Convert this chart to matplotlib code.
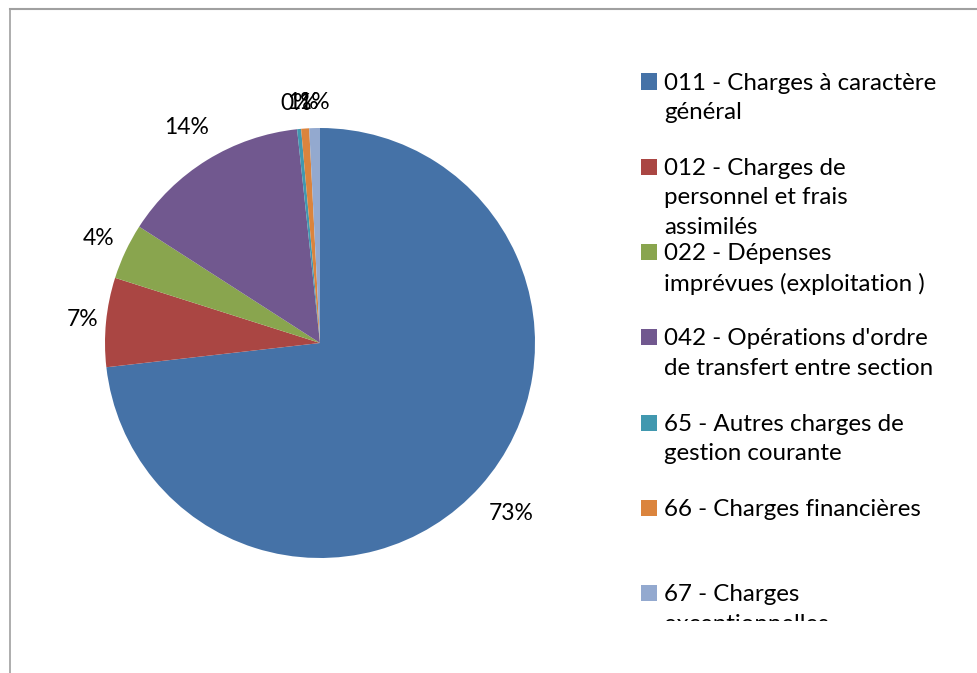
import matplotlib
matplotlib.use("Agg")
import numpy as np
import matplotlib.pyplot as plt
from matplotlib.lines import Line2D
from matplotlib.patches import Rectangle
from matplotlib.transforms import Bbox

# Data (percent of total)
labels = [
    "011 - Charges à caractère\ngénéral",
    "012 - Charges de\npersonnel et frais\nassimilés",
    "022 - Dépenses\nimprévues (exploitation )",
    "042 - Opérations d'ordre\nde transfert entre section",
    "65 - Autres charges de\ngestion courante",
    "66 - Charges financières",
    "67 - Charges\nexceptionnelles",
]
values = [73.2, 6.7, 4.2, 14.2, 0.3, 0.6, 0.8]
colors = ["#4572A7", "#AA4643", "#89A54E", "#71588F", "#4198AF", "#DB843D", "#93A9CF"]

plt.rcParams["font.family"] = ["Lato", "DejaVu Sans"]

W, H = 977, 673
fig = plt.figure(figsize=(W / 100, H / 100), dpi=100)

# chart border (top and left edges visible)
fig.add_artist(Line2D([10 / W, 1], [1 - 9 / H, 1 - 9 / H], color="#a0a0a0", lw=1.5))
fig.add_artist(Line2D([10 / W, 10 / W], [0, 1 - 9 / H], color="#a0a0a0", lw=1.2))

# pie: center (320, 343) px, radius 215 px
cx, cy, r = 320, 343, 215
ax = fig.add_axes([(cx - r) / W, (H - cy - r) / H, 2 * r / W, 2 * r / H])
wedges, texts, autotexts = ax.pie(
    values, colors=colors, startangle=90, counterclock=False,
    autopct="%.0f%%", pctdistance=1.17, radius=1,
    wedgeprops=dict(linewidth=0), textprops=dict(fontsize=16.5, color="#000000"),
)
ax.set_xlim(-1, 1)
ax.set_ylim(-1, 1)
ax.set_aspect("equal")

# per-slice label distance, like Excel's best-fit placement
label_dist = [1.19, 1.11, 1.14, 1.18, 1.12, 1.12, 1.12]
for w, t, d in zip(wedges, autotexts, label_dist):
    ang = np.deg2rad((w.theta1 + w.theta2) / 2)
    t.set_position((d * np.cos(ang), d * np.sin(ang)))
    t.set_clip_on(False)

# legend drawn by hand so it can wrap and get clipped like the original
clip = Bbox.from_extents(0, (H - 621) / H, 1, 1)
y0, step = 81.5, 85.3
for i, (lab, col) in enumerate(zip(labels, colors)):
    y = y0 + i * step
    fig.add_artist(Rectangle((641 / W, (H - y - 8) / H), 16 / W, 16 / H,
                             transform=fig.transFigure, facecolor=col, edgecolor="none"))
    t = fig.text(664 / W, (H - y + 9) / H, lab, fontsize=17.4, va="top", ha="left",
                 linespacing=1.5)
    t.set_clip_box(fig.transFigure.transform_bbox(clip))
    t.set_clip_on(True)

fig.savefig("out.png", dpi=100)
